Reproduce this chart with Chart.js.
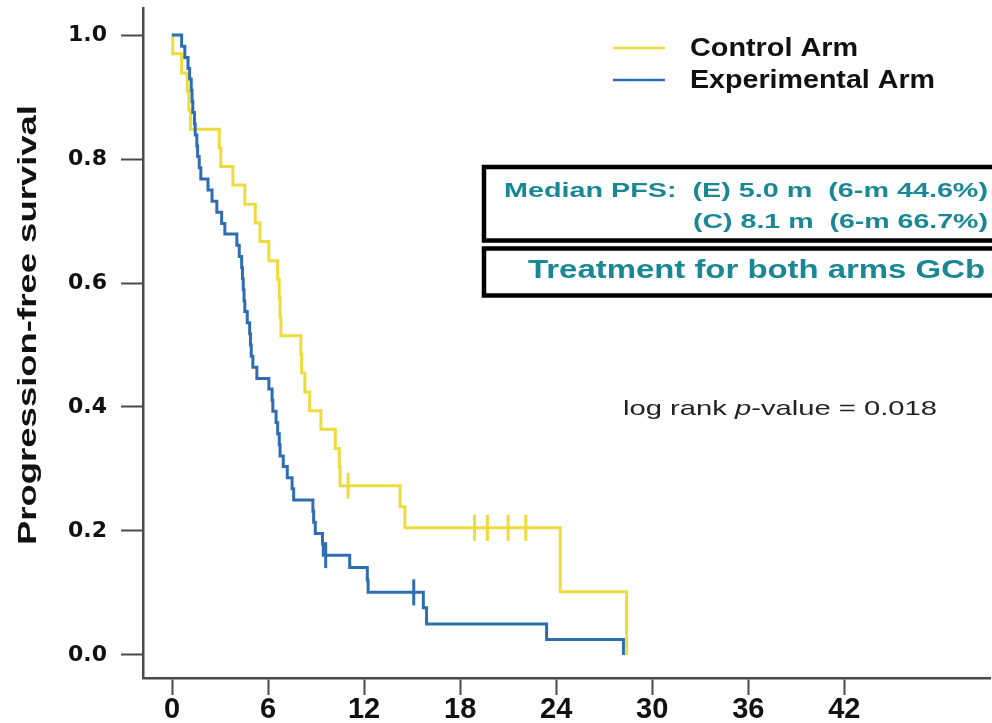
<!DOCTYPE html>
<html>
<head>
<meta charset="utf-8">
<title>Progression-free survival</title>
<script src="https://cdn.jsdelivr.net/npm/chart.js@4.4.1/dist/chart.umd.min.js"></script>
<style>
  html, body { margin: 0; padding: 0; background: #fff; }
  #pfsChart { display: block; }
</style>
</head>
<body>
<canvas id="pfsChart" width="992" height="723"></canvas>
<script>
// Kaplan-Meier steps: month of each drop and the survival right after it
const controlMonths = [0, 0.05, 0.6, 0.95, 1.05, 1.15, 2.95, 3.05, 3.8, 4.55, 5.2, 5.5,
  6.05, 6.6, 6.7, 6.75, 6.8, 8.05, 8.1, 8.3, 8.6, 9.3, 10.2, 10.45, 10.5,
  14.25, 14.55, 24.25, 28.4];
const controlSurvival = [1.0, 0.970, 0.939, 0.909, 0.879, 0.848, 0.818, 0.788, 0.758, 0.727, 0.697, 0.667,
  0.636, 0.606, 0.576, 0.545, 0.515, 0.485, 0.455, 0.424, 0.394, 0.364, 0.333, 0.303, 0.273,
  0.239, 0.205, 0.102, 0.0];

const experimentalMonths = [0, 0.6, 0.8, 1.0, 1.1, 1.2, 1.25, 1.3, 1.4, 1.45, 1.55, 1.6, 1.7, 1.8,
  2.25, 2.5, 2.8, 3.1, 3.3, 4.05, 4.2, 4.35, 4.4, 4.45, 4.5, 4.55, 4.7, 4.85, 4.9, 4.95,
  5.05, 5.3, 6.05, 6.25, 6.3, 6.5, 6.6, 6.7, 6.75, 6.95, 7.2, 7.5, 7.6,
  8.8, 8.85, 8.95, 9.4, 9.45, 11.1, 12.2, 12.25, 15.7, 15.9, 23.4, 28.2];
const experimentalSurvival = [1.0, 0.982, 0.964, 0.946, 0.929, 0.911, 0.893, 0.875, 0.857, 0.839, 0.821, 0.804, 0.786, 0.768,
  0.750, 0.732, 0.714, 0.696, 0.679, 0.661, 0.643, 0.625, 0.607, 0.589, 0.571, 0.554, 0.536, 0.518, 0.500, 0.482,
  0.464, 0.446, 0.429, 0.411, 0.393, 0.375, 0.357, 0.339, 0.321, 0.304, 0.286, 0.268, 0.250,
  0.232, 0.214, 0.196, 0.179, 0.161, 0.141, 0.121, 0.101, 0.076, 0.050, 0.025, 0.0];

// censored patients, drawn as small vertical ticks on the curves
const controlCensorMonths = [11.0, 18.9, 19.7, 21.0, 22.1];
const controlCensorSurvival = [0.273, 0.205, 0.205, 0.205, 0.205];
const experimentalCensorMonths = [9.6, 15.1];
const experimentalCensorSurvival = [0.161, 0.101];

const xTicks = [0, 6, 12, 18, 24, 30, 36, 42];
const yTicks = [0, 0.2, 0.4, 0.6, 0.8, 1.0];

const armLabels = ["Control Arm", "Experimental Arm"];
const yTitle = "Progression-free survival";
const medianLines = ["Median PFS:  (E) 5.0 m  (6-m 44.6%)", "(C) 8.1 m  (6-m 66.7%)"];
const treatmentNote = "Treatment for both arms GCb";
const pValueParts = ["log rank ", "p", "-value = 0.018"];

const YELLOW = "#eedb3c";
const BLUE = "#2f6db2";
const TEAL = "#1a8795";
const AXIS = "#4a4a4a";
const FONT = "'Liberation Sans', Arial, sans-serif";

const toPoints = (xs, ys) => xs.map((x, i) => ({ x: x, y: ys[i] }));

// draws a string squeezed/stretched to a given width
function drawFitted(ctx, text, x, y, width, align) {
  const natural = ctx.measureText(text).width;
  ctx.save();
  ctx.translate(x, y);
  ctx.scale(width / natural, 1);
  ctx.textAlign = align || "left";
  ctx.fillText(text, 0, 0);
  ctx.restore();
}

const annotations = {
  id: "annotations",
  beforeDraw(chart) {
    const ctx = chart.ctx;
    ctx.save();
    ctx.fillStyle = "#fff";
    ctx.fillRect(0, 0, chart.width, chart.height);
    ctx.restore();
  },
  afterDraw(chart) {
    const ctx = chart.ctx;
    ctx.save();
    ctx.textBaseline = "middle";

    // y axis title
    ctx.fillStyle = "#111";
    ctx.font = "bold 26px " + FONT;
    ctx.save();
    ctx.translate(29, 325);
    ctx.rotate(-Math.PI / 2);
    drawFitted(ctx, yTitle, 0, 0, 440, "center");
    ctx.restore();

    // legend
    const legendY = [48, 80];
    const legendW = [168, 245];
    [0, 1].forEach(i => {
      const ds = chart.data.datasets[i];
      ctx.strokeStyle = ds.borderColor;
      ctx.lineWidth = 2.5;
      ctx.beginPath();
      ctx.moveTo(613, legendY[i]);
      ctx.lineTo(665, legendY[i]);
      ctx.stroke();
      ctx.fillStyle = "#111";
      ctx.font = "bold 25px " + FONT;
      drawFitted(ctx, ds.label, 690, legendY[i] + 1, legendW[i]);
    });

    // boxed notes
    ctx.strokeStyle = "#000";
    ctx.lineWidth = 4.5;
    ctx.strokeRect(484, 167, 560, 73.5);
    ctx.strokeRect(484, 248.5, 560, 47);

    ctx.fillStyle = TEAL;
    ctx.font = "bold 21px " + FONT;
    drawFitted(ctx, medianLines[0], 504, 191, 484);
    drawFitted(ctx, medianLines[1], 988, 222, 295, "right");
    ctx.font = "bold 25px " + FONT;
    drawFitted(ctx, treatmentNote, 528, 271, 457);

    // log rank p-value with italic p
    ctx.fillStyle = "#222";
    const fonts = ["21px " + FONT, "italic 21px " + FONT, "21px " + FONT];
    let natural = 0;
    pValueParts.forEach((t, i) => { ctx.font = fonts[i]; natural += ctx.measureText(t).width; });
    const sx = 314 / natural;
    ctx.save();
    ctx.translate(623, 409);
    ctx.scale(sx, 1);
    let cx = 0;
    pValueParts.forEach((t, i) => {
      ctx.font = fonts[i];
      ctx.textAlign = "left";
      ctx.fillText(t, cx, 0);
      cx += ctx.measureText(t).width;
    });
    ctx.restore();

    ctx.restore();
  }
};

new Chart(document.getElementById("pfsChart"), {
  type: "line",
  data: {
    datasets: [
      {
        label: armLabels[0],
        data: toPoints(controlMonths, controlSurvival),
        borderColor: YELLOW,
        borderWidth: 3,
        stepped: true,
        pointRadius: 0,
        fill: false,
        order: 3
      },
      {
        label: armLabels[1],
        data: toPoints(experimentalMonths, experimentalSurvival),
        borderColor: BLUE,
        borderWidth: 3,
        stepped: true,
        pointRadius: 0,
        fill: false,
        order: 1
      },
      {
        label: "Control censored",
        data: toPoints(controlCensorMonths, controlCensorSurvival),
        showLine: false,
        pointStyle: "line",
        rotation: 90,
        pointRadius: 13,
        pointBorderWidth: 3,
        pointBorderColor: YELLOW,
        borderColor: YELLOW,
        order: 2
      },
      {
        label: "Experimental censored",
        data: toPoints(experimentalCensorMonths, experimentalCensorSurvival),
        showLine: false,
        pointStyle: "line",
        rotation: 90,
        pointRadius: 13,
        pointBorderWidth: 3,
        pointBorderColor: BLUE,
        borderColor: BLUE,
        order: 0
      }
    ]
  },
  options: {
    responsive: false,
    animation: false,
    events: [],
    layout: { autoPadding: false, padding: { top: 8, right: 2, left: 0, bottom: 0 } },
    plugins: {
      legend: { display: false },
      tooltip: { enabled: false }
    },
    scales: {
      x: {
        type: "linear",
        min: -1.8125,
        max: 51.1,
        afterBuildTicks: s => { s.ticks = xTicks.map(v => ({ value: v })); },
        afterFit: s => { s.height = 45; },
        grid: { drawOnChartArea: false, drawTicks: true, tickLength: 17, tickColor: AXIS, tickWidth: 2 },
        border: { display: true, color: AXIS, width: 2.5 },
        ticks: {
          color: "#111",
          font: { family: FONT, size: 29, weight: "bold", lineHeight: 1 },
          padding: 0,
          maxRotation: 0,
          autoSkip: false,
          callback: v => String(v)
        }
      },
      y: {
        type: "linear",
        min: -0.0372,
        max: 1.0437,
        afterBuildTicks: s => { s.ticks = yTicks.map(v => ({ value: v })); },
        afterFit: s => {
          s.width = 143;
          s.paddingTop = 0;
          s.paddingBottom = 0;
        },
        grid: { drawOnChartArea: false, drawTicks: true, tickLength: 22, tickColor: AXIS, tickWidth: 2 },
        border: { display: true, color: AXIS, width: 2.5 },
        ticks: {
          color: "#111",
          font: { family: "'DejaVu Sans', Verdana, sans-serif", size: 22, weight: "bold" },
          padding: 14,
          autoSkip: false,
          callback: v => v.toFixed(1)
        }
      }
    }
  },
  plugins: [annotations]
});
</script>
</body>
</html>
